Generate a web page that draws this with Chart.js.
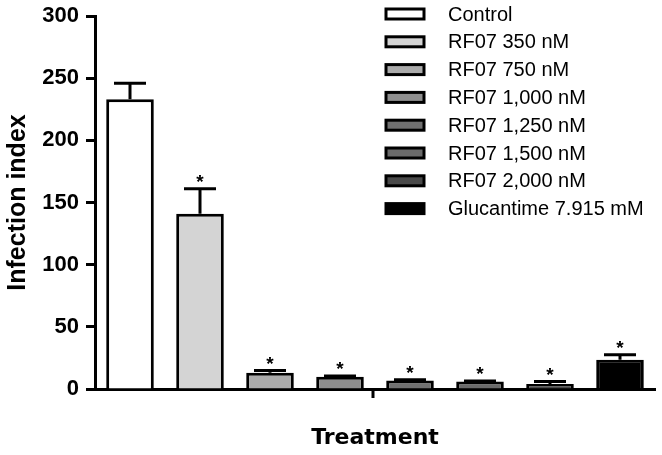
<!DOCTYPE html>
<html>
<head>
<meta charset="utf-8">
<script src="https://cdn.jsdelivr.net/npm/chart.js@4"></script>
<style>
  body { margin: 0; background: #fff; }
  #zone { width: 662px; height: 455px; }
</style>
</head>
<body>
<div id="zone"><canvas id="graphe" width="662" height="455"></canvas></div>
<script>
// valeurs
const traitements = ['Control', 'RF07 350 nM', 'RF07 750 nM', 'RF07 1,000 nM', 'RF07 1,250 nM', 'RF07 1,500 nM', 'RF07 2,000 nM', 'Glucantime 7.915 mM']
const valeurs = [233, 141, 13, 9.8, 6.8, 6, 4, 23.5]
const erreurs = [13, 20, 1.8, 0.6, 0.6, 0.5, 2, 4]
const etoiles = [false, true, true, true, true, true, true, true]
const couleurs = ['#ffffff', '#d4d4d4', '#ababab', '#8e8e8e', '#707070', '#6a6a6a', '#4a4a4a', '#000000']
const graduations = [0, 50, 100, 150, 200, 250, 300]

const police = "'Liberation Sans', Arial, sans-serif"

const extras = {
    id: 'extras',
    afterDatasetsDraw(chart) {
        const ctx = chart.ctx
        const y = chart.scales.y
        const meta = chart.getDatasetMeta(0)
        ctx.save()
        ctx.strokeStyle = '#000'
        ctx.fillStyle = '#000'
        ctx.lineWidth = 3
        meta.data.forEach((bar, i) => {
            const haut = y.getPixelForValue(valeurs[i])
            const bout = y.getPixelForValue(valeurs[i] + erreurs[i])
            ctx.beginPath()
            ctx.moveTo(bar.x, haut)
            ctx.lineTo(bar.x, bout)
            ctx.moveTo(bar.x - 16, bout)
            ctx.lineTo(bar.x + 16, bout)
            ctx.stroke()
            if (etoiles[i]) {
                ctx.font = 'bold 19px ' + police
                ctx.textAlign = 'center'
                ctx.textBaseline = 'alphabetic'
                ctx.fillText('*', bar.x, bout - 1)
            }
        })
        ctx.restore()
    },
    afterDraw(chart) {
        const ctx = chart.ctx
        const area = chart.chartArea
        ctx.save()
        // petit trait au milieu de l'axe x
        ctx.strokeStyle = '#000'
        ctx.lineWidth = 3
        const milieu = (area.left + area.right) / 2 - 2
        ctx.beginPath()
        ctx.moveTo(milieu, area.bottom)
        ctx.lineTo(milieu, area.bottom + 9)
        ctx.stroke()

        // légende
        ctx.font = '20px ' + police
        ctx.textAlign = 'left'
        ctx.textBaseline = 'middle'
        traitements.forEach((nom, i) => {
            const yc = 14 + i * 27.8
            ctx.fillStyle = couleurs[i]
            ctx.fillRect(386, yc - 5, 38, 10)
            ctx.strokeRect(386, yc - 5, 38, 10)
            ctx.fillStyle = '#000'
            ctx.fillText(nom, 448, yc + 1)
        })
        ctx.restore()
    }
}

const ctx = document.getElementById('graphe').getContext('2d')
const myChart = new Chart(ctx, {
    type: 'bar',
    data: {
        labels: traitements,
        datasets: [{
            data: valeurs,
            backgroundColor: couleurs,
            borderColor: '#000',
            borderWidth: 3,
            categoryPercentage: 1,
            barPercentage: 0.68
        }]
    },
    options: {
        responsive: false,
        animation: false,
        layout: {
            padding: { left: 0, right: 7, top: 16, bottom: 0 }
        },
        plugins: {
            legend: { display: false },
            tooltip: { enabled: false }
        },
        scales: {
            x: {
                grid: { display: false },
                border: { color: '#000', width: 3 },
                ticks: { display: false },
                title: {
                    display: true,
                    text: 'Treatment',
                    color: '#000',
                    font: { family: "'DejaVu Sans'", size: 22, weight: 'bold' },
                    padding: { top: 0, bottom: 4 }
                },
                afterFit: (s) => { s.height = 66 }
            },
            y: {
                min: 0,
                max: 300,
                afterBuildTicks: (s) => { s.ticks = graduations.map(v => ({ value: v })) },
                grid: {
                    drawOnChartArea: false,
                    drawTicks: true,
                    tickLength: 9,
                    tickWidth: 3,
                    tickColor: '#000'
                },
                border: { color: '#000', width: 3 },
                ticks: {
                    color: '#000',
                    padding: 7,
                    font: { family: police, size: 22, weight: 'bold' }
                },
                title: {
                    display: true,
                    text: 'Infection index',
                    color: '#000',
                    font: { family: police, size: 25, weight: 'bold' },
                    padding: { top: 3, bottom: 0 }
                },
                afterFit: (s) => {
                    s.width = 95
                    s.paddingTop = 0
                    s.paddingBottom = 0
                }
            }
        }
    },
    plugins: [extras]
})
</script>
</body>
</html>
